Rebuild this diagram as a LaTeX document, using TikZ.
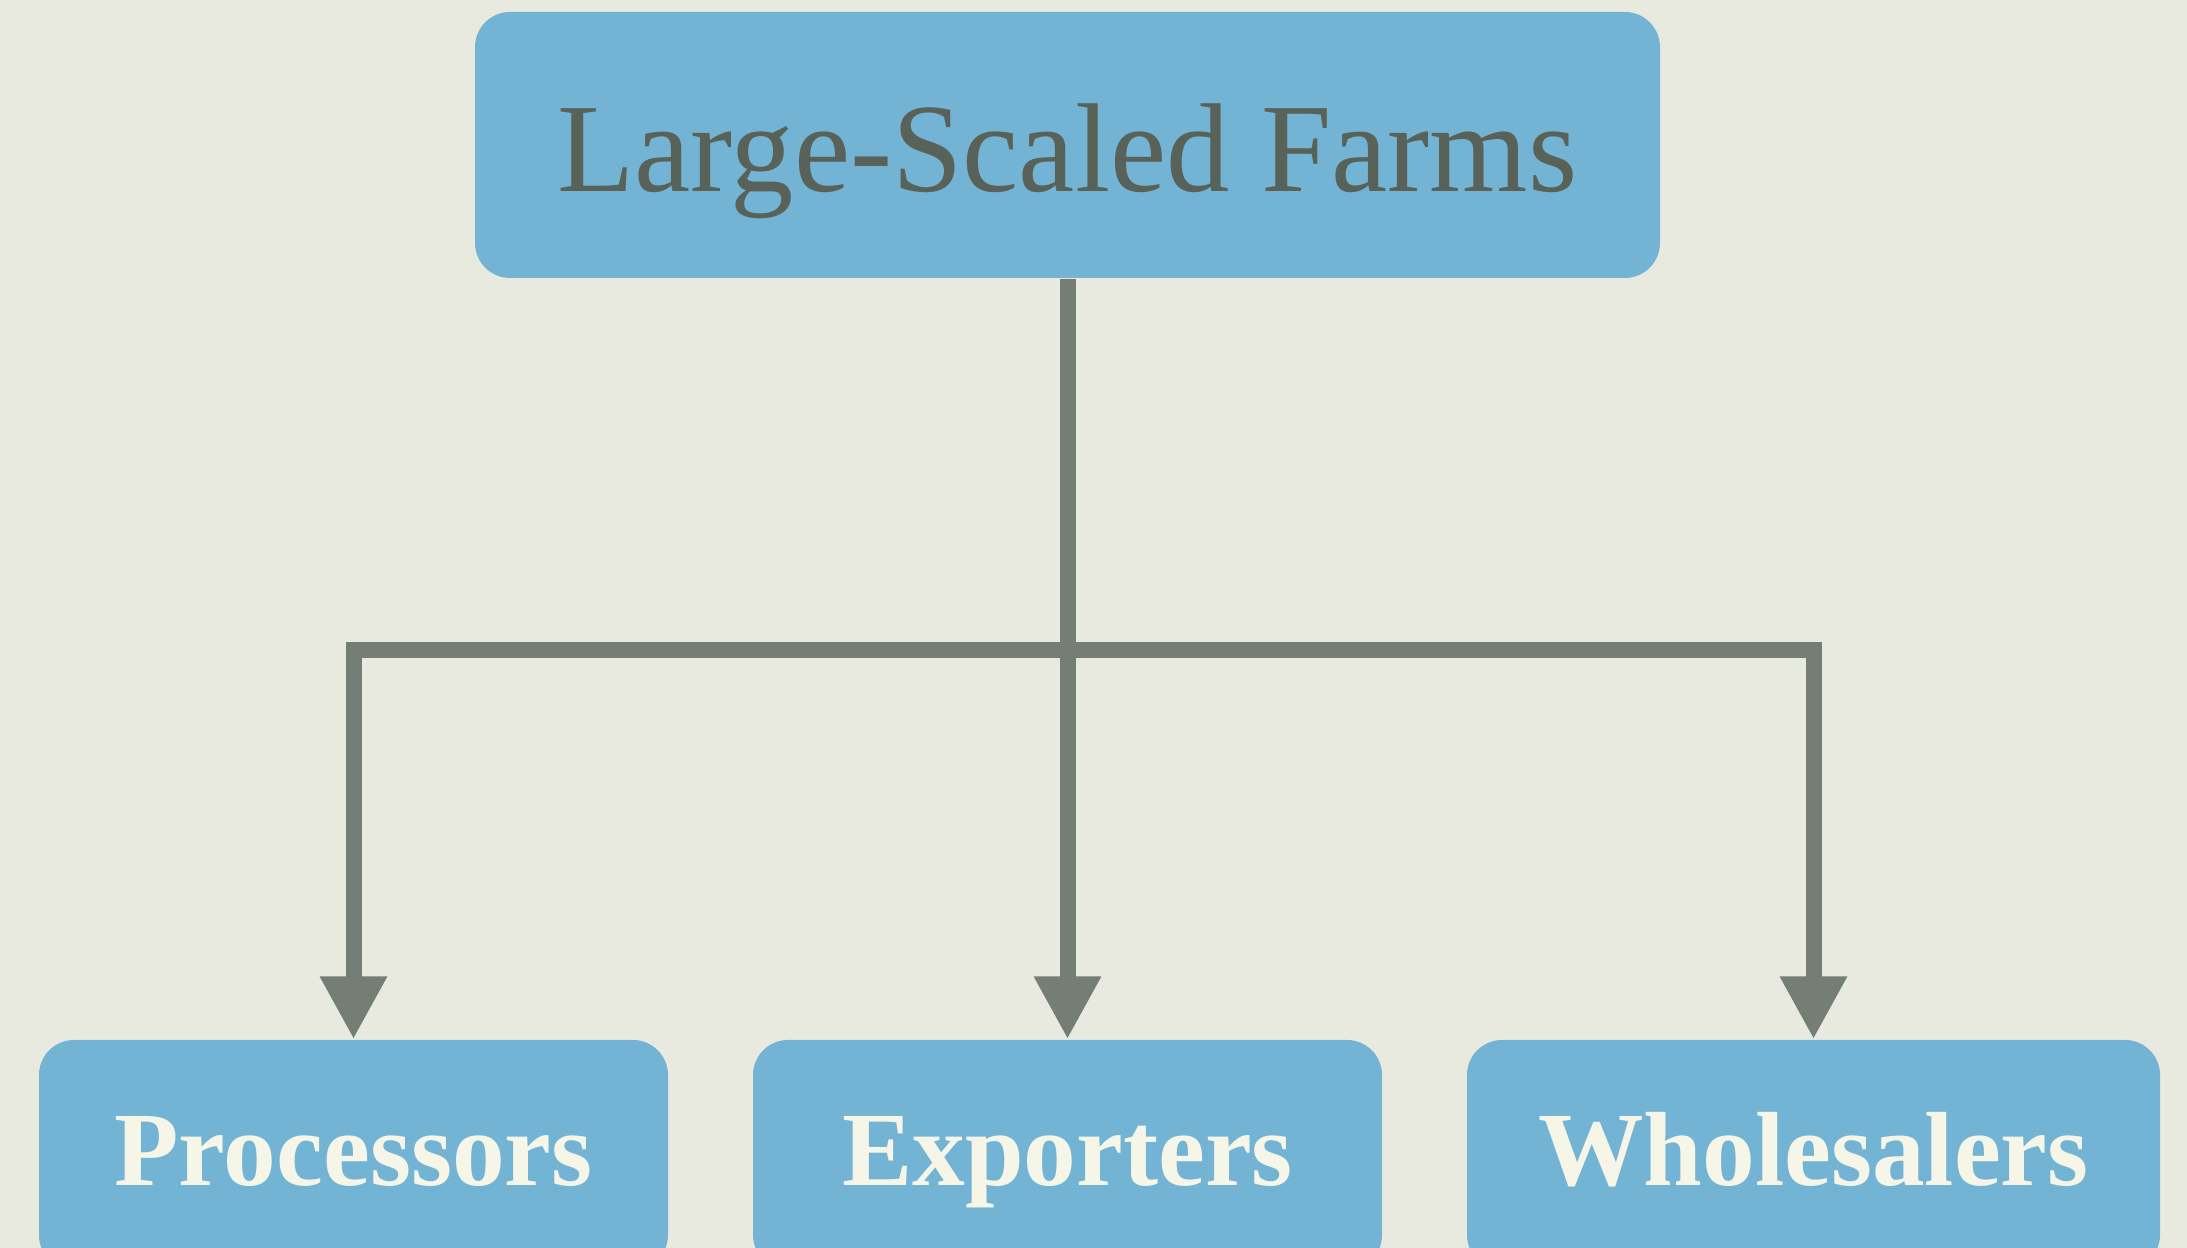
\documentclass[tikz,border=0pt]{standalone}
\usepackage{fontspec}
\setmainfont{Liberation Serif}
\usetikzlibrary{arrows.meta}

\definecolor{paper}{RGB}{233,234,223}
\definecolor{boxblue}{RGB}{115,180,212}
\definecolor{darktext}{RGB}{88,98,88}
\definecolor{lighttext}{RGB}{245,245,232}
\definecolor{linegray}{RGB}{116,126,117}

\begin{document}
\begin{tikzpicture}[
	farmbox/.style={fill=boxblue, rounded corners=0.35cm, inner sep=0pt, text=darktext, font=\fontsize{36}{42}\selectfont, text height=0.94cm, text depth=0cm},
	buyerbox/.style={fill=boxblue, rounded corners=0.35cm, inner sep=0pt, text=lighttext, font=\bfseries\fontsize{30}{36}\selectfont, minimum height=2.3cm, text height=0.62cm, text depth=0cm},
	flow/.style={draw=linegray, line width=0.16cm, -{Triangle[length=0.63cm,width=0.63cm]}}
	]

	% paper background, fixes the size too
	\fill[paper] (0,0) rectangle (21.87,12.48);
	\clip (0,0) rectangle (21.87,12.48);

	% the farm on top
	\node[farmbox, minimum width=11.85cm, minimum height=2.66cm] (farms) at (10.675,11.03) {Large-Scaled Farms};

	% the three buyers, cut off at the bottom edge
	\node[buyerbox, minimum width=6.29cm] (proc) at (3.535,0.93) {Processors};
	\node[buyerbox, minimum width=6.29cm] (exp) at (10.675,0.93) {Exporters};
	\node[buyerbox, minimum width=6.93cm] (whole) at (18.135,0.93) {Wholesalers};

	% branching point of the connectors
	\coordinate (split) at (10.675,5.98);

	\draw[flow] (farms.south) -- (exp.north);
	\draw[flow] (split) -| (proc.north);
	\draw[flow] (split) -| (whole.north);

\end{tikzpicture}
\end{document}
